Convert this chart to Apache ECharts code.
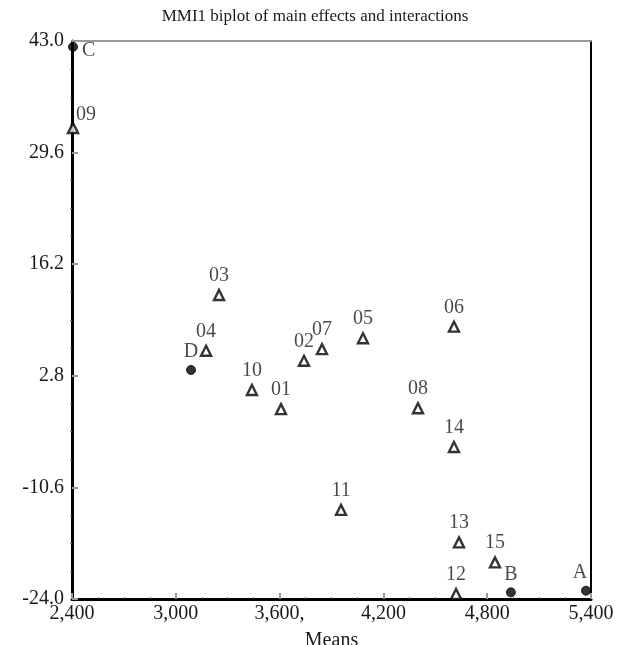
<!DOCTYPE html>
<html>
<head>
<meta charset="utf-8">
<script src="https://cdn.jsdelivr.net/npm/echarts@6/dist/echarts.min.js"></script>
<style>html,body{margin:0;padding:0;background:#fff;}#c{width:618px;height:645px;}</style>
</head>
<body>
<div id="c"></div>
<script>
// Genotypes (triangles)
var genoNames = ['01','02','03','04','05','06','07','08','09','10','11','12','13','14','15'];
var genoMeans = [3608, 3741, 3250, 3175, 4082, 4608, 3845, 4400, 2406, 3440, 3955, 4620, 4637, 4608, 4845];
var genoIPCA  = [-1.2, 4.6, 12.5, 5.8, 7.3, 8.7, 6.0, -1.1, 32.55, 1.1, -13.3, -23.4, -17.2, -5.75, -19.6];
// Environments (circles)
var envNames = ['A','B','C','D'];
var envMeans = [5371, 4937, 2406, 3088];
var envIPCA  = [-23.0, -23.2, 42.3, 3.5];
// Tick labels
var xTickValues = [2400, 3000, 3600, 4200, 4800, 5400];
var xTickLabels = ['2,400','3,000','3,600,','4,200','4,800','5,400'];
var yTickValues = [-24.0, -10.6, 2.8, 16.2, 29.6, 43.0];
var yTickLabels = ['-24.0','-10.6','2.8','16.2','29.6','43.0'];
var titleText = 'MMI1 biplot of main effects and interactions';
var xName = 'Means';

var FONT = '"Liberation Serif", "DejaVu Serif", serif';

// minor tick positions for y (4 subdivisions between majors)
var yMinor = [];
for (var i = 0; i < yTickValues.length - 1; i++) {
  var a = yTickValues[i], b = yTickValues[i+1];
  for (var k = 1; k < 4; k++) yMinor.push(a + (b - a) * k / 4);
}

var labelPlacement = {
  'C': {position:'right', distance: 4, offset:[0,4]},
  '09': {position:'top', offset:[13,6]},
  'A': {position:'top', offset:[-6,0]}
};

function mkData(names, xs, ys) {
  return names.map(function (n, i) {
    var d = { name: n, value: [xs[i], ys[i]] };
    if (labelPlacement[n]) d.label = labelPlacement[n];
    return d;
  });
}

var chart = echarts.init(document.getElementById('c'), null, {renderer:'canvas'});
chart.setOption({
  animation: false,
  backgroundColor: '#fff',
  title: {
    text: titleText, left: 310, textAlign: 'center', top: 3,
    textStyle: { fontFamily: FONT, fontSize: 17, fontWeight: 'normal', color: '#1a1a1a' }
  },
  grid: { left: 72, right: 27, top: 41, bottom: 46, containLabel: false, outerBoundsMode: 'none' },
  xAxis: [{
    type: 'value', position: 'bottom', min: 2400, max: 5400, interval: 600,
    axisLine: { show: true, onZero: false, lineStyle: { color: '#000', width: 3 } },
    axisTick: { show: true, inside: true, length: 6, lineStyle: { color: '#999', width: 2 } },
    minorTick: { show: true, splitNumber: 4, length: 2, lineStyle: { color: '#666', width: 1 } },
    splitLine: { show: false },
    axisLabel: {
      fontFamily: FONT, fontSize: 20, color: '#1a1a1a', margin: 5,
      formatter: function (v) { var i = xTickValues.indexOf(v); return i >= 0 ? xTickLabels[i] : ''; }
    },
    name: xName, nameLocation: 'middle', nameGap: 32,
    nameTextStyle: { fontFamily: FONT, fontSize: 20, color: '#1a1a1a' }
  }, {
    type: 'value', position: 'top', min: 2400, max: 5400,
    axisLine: { show: true, onZero: false, lineStyle: { color: '#999', width: 2 } },
    axisTick: { show: false }, axisLabel: { show: false }, splitLine: { show: false }
  }],
  yAxis: [{
    type: 'value', position: 'left', min: -24, max: 43,
    axisLine: { show: true, onZero: false, lineStyle: { color: '#000', width: 3 } },
    axisTick: { show: true, inside: true, length: 6, customValues: yTickValues, lineStyle: { color: '#999', width: 2 } },
    splitLine: { show: false },
    axisLabel: {
      customValues: yTickValues, fontFamily: FONT, fontSize: 20, color: '#1a1a1a', margin: 8,
      formatter: function (v) {
        for (var i = 0; i < yTickValues.length; i++) if (Math.abs(yTickValues[i] - v) < 1e-6) return yTickLabels[i];
        return '';
      }
    }
  }, {
    type: 'value', position: 'left', min: -24, max: 43,
    axisLine: { show: false },
    axisTick: { show: true, inside: false, length: 2, customValues: yMinor, lineStyle: { color: '#666', width: 1 } },
    axisLabel: { show: false }, splitLine: { show: false }
  }, {
    type: 'value', position: 'right', min: -24, max: 43,
    axisLine: { show: true, onZero: false, lineStyle: { color: '#000', width: 2 } },
    axisTick: { show: false }, axisLabel: { show: false }, splitLine: { show: false }
  }],
  series: [{
    type: 'scatter', name: 'Genotypes', xAxisIndex: 0, yAxisIndex: 0,
    symbol: 'triangle', symbolSize: 10,
    itemStyle: { color: '#fff', borderColor: '#000', borderWidth: 2.4 },
    label: { show: true, position: 'top', distance: 3, formatter: '{b}', fontFamily: FONT, fontSize: 20, color: '#1a1a1a' },
    data: mkData(genoNames, genoMeans, genoIPCA)
  }, {
    type: 'scatter', name: 'Environments', xAxisIndex: 0, yAxisIndex: 0,
    symbol: 'circle', symbolSize: 9,
    itemStyle: { color: '#000', borderColor: '#000', borderWidth: 1 },
    label: { show: true, position: 'top', distance: 3, formatter: '{b}', fontFamily: FONT, fontSize: 20, color: '#1a1a1a' },
    data: mkData(envNames, envMeans, envIPCA)
  }]
});
</script>
</body>
</html>
